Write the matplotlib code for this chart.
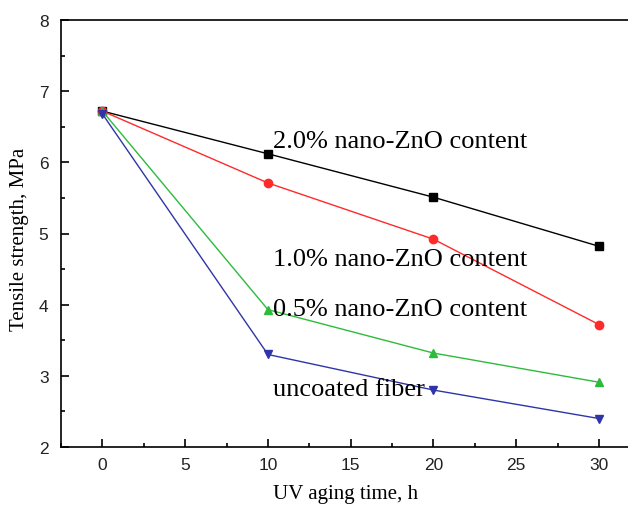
import matplotlib
matplotlib.use("Agg")
import matplotlib.pyplot as plt
from matplotlib.ticker import MultipleLocator

hours = [0, 10, 20, 30]
zno_20 = [6.72, 6.12, 5.51, 4.82]
zno_10 = [6.72, 5.71, 4.92, 3.72]
zno_05 = [6.72, 3.93, 3.32, 2.91]
uncoated = [6.68, 3.30, 2.80, 2.40]

series = [
    (zno_20, "#000000", "s", "2.0% nano-ZnO content", (10.3, 6.30)),
    (zno_10, "#ff2a2a", "o", "1.0% nano-ZnO content", (10.3, 4.64)),
    (zno_05, "#2dbb3c", "^", "0.5% nano-ZnO content", (10.3, 3.94)),
    (uncoated, "#2f35a8", "v", "uncoated fiber", (10.3, 2.82)),
]

SERIF = ["Liberation Serif", "DejaVu Serif"]
TICKFONT = ["Liberation Sans Narrow", "Liberation Sans", "DejaVu Sans"]

fig = plt.figure(figsize=(6.28, 5.06), dpi=100)
ax = fig.add_axes([61 / 628, 1 - 448 / 506, 1 - 61 / 628, (448 - 21) / 506])

for ys, col, mk, lab, (tx, ty) in series:
    ax.plot(hours, ys, color=col, marker=mk, ms=6, lw=1.0)
    ax.text(tx, ty, lab, family=SERIF, fontsize=19, va="center", ha="left")

ax.set_xlim(-2.5, 31.75)
ax.set_ylim(2, 8)
ax.xaxis.set_major_locator(MultipleLocator(5))
ax.xaxis.set_minor_locator(MultipleLocator(2.5))
ax.yaxis.set_major_locator(MultipleLocator(1))
ax.yaxis.set_minor_locator(MultipleLocator(0.5))
ax.tick_params(which="both", direction="in", width=1.2)
ax.tick_params(which="major", length=6)
ax.tick_params(which="minor", length=3)
ax.tick_params(axis="y", pad=9)
ax.tick_params(axis="x", pad=7)
for lbl in ax.get_xticklabels() + ax.get_yticklabels():
    lbl.set_family(TICKFONT)
    lbl.set_fontsize(12.5)
    lbl.set_color("#222222")
ax.spines["right"].set_visible(False)
for s in ["left", "bottom", "top"]:
    ax.spines[s].set_linewidth(1.2)

fig.text(346 / 628, 1 - 495 / 506, "UV aging time, h", family=SERIF, fontsize=15,
         ha="center", va="center")
fig.text(20 / 628, 1 - 239 / 506, "Tensile strength, MPa", family=SERIF, fontsize=15,
         ha="center", va="center", rotation=90)

fig.savefig("out.png")
